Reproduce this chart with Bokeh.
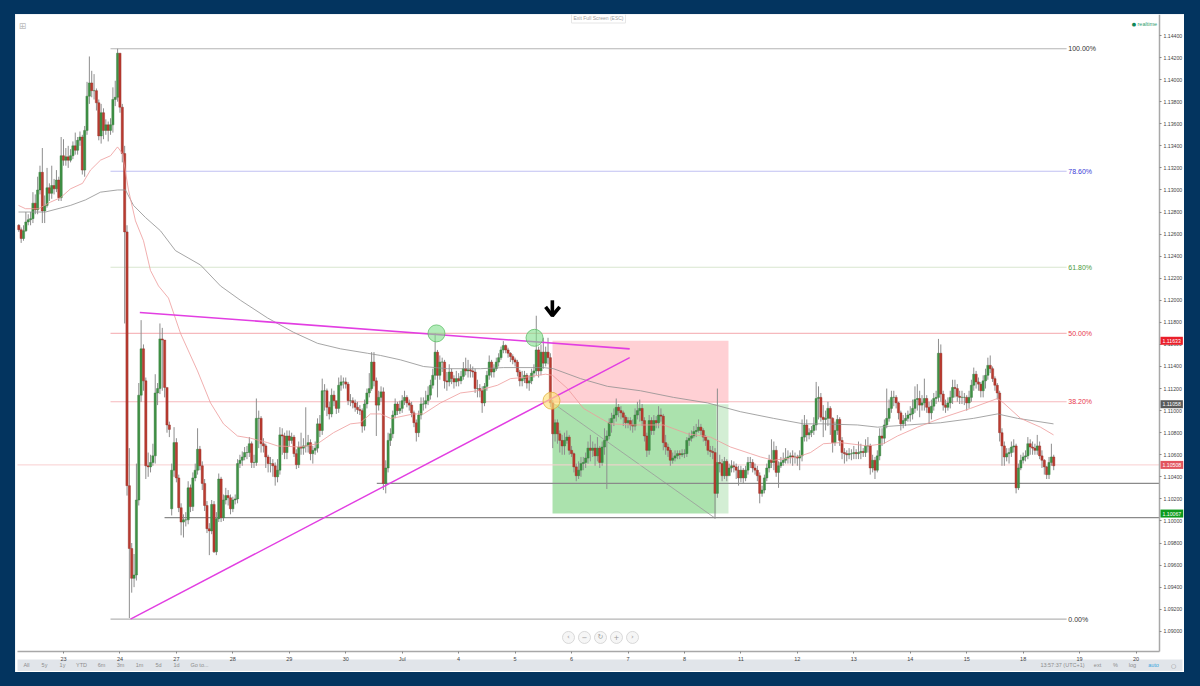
from bokeh.plotting import figure
from bokeh.core.properties import value
from bokeh.models import (Range1d, FixedTicker, NumeralTickFormatter, Label, BoxAnnotation,
                          GlobalInlineStyleSheet)
from bokeh.embed import file_html
from bokeh.resources import INLINE

# Hourly candles, one line per trading day; the first line ends just before the "23" tick
opens = [
1.1268,1.1264,1.1256,1.1263,1.1271,1.1273,1.1274,1.1288,1.1282,1.1300,1.1316,1.1281,1.1286,1.1302,1.1297,1.1304,1.1301,1.1309,1.1293,
1.1331,1.1327,1.1330,1.1327,1.1331,1.1340,1.1336,1.1345,1.1348,1.1318,1.1354,1.1385,1.1397,1.1390,1.1390,1.1379,1.1349,1.1370,1.1354,1.1359,1.1354,1.1359,1.1382,1.1384,
1.1424,1.1375,1.1333,1.1262,1.1032,1.0975,1.0948,1.0951,1.1019,1.1114,1.1156,1.1127,1.1050,1.1049,1.1053,1.1059,1.1116,1.1120,1.1165,1.1164,1.1121,1.1087,1.1011,1.1046,
1.1071,1.1039,1.1012,1.0999,1.1001,1.1001,1.1030,1.1013,1.1039,1.1046,1.1065,1.1050,1.1034,1.1014,1.0993,1.0991,1.1015,1.0972,1.1002,1.1038,1.1003,1.1019,1.1023,1.1021,
1.1011,1.1019,1.1020,1.1052,1.1055,1.1058,1.1062,1.1062,1.1070,1.1053,1.1053,1.1093,1.1093,1.1070,1.1068,1.1058,1.1052,1.1052,1.1050,1.1040,1.1046,1.1078,1.1077,1.1062,
1.1077,1.1073,1.1076,1.1061,1.1051,1.1067,1.1066,1.1068,1.1068,1.1071,1.1061,1.1064,1.1066,1.1088,1.1082,1.1118,1.1118,1.1103,1.1097,1.1114,1.1109,1.1102,1.1123,1.1126,
1.1126,1.1124,1.1109,1.1109,1.1107,1.1103,1.1101,1.1100,1.1086,1.1106,1.1116,1.1120,1.1144,1.1127,1.1105,1.1112,1.1117,1.1034,1.1048,1.1073,1.1079,1.1096,1.1106,1.1100,
1.1102,1.1109,1.1112,1.1107,1.1105,1.1098,1.1089,1.1080,1.1096,1.1106,1.1106,1.1109,1.1114,1.1123,1.1132,1.1153,1.1132,1.1144,1.1144,1.1127,1.1126,1.1135,1.1129,1.1126,
1.1129,1.1127,1.1131,1.1138,1.1136,1.1137,1.1136,1.1135,1.1120,1.1120,1.1118,1.1107,1.1122,1.1132,1.1144,1.1135,1.1138,1.1144,1.1148,1.1155,1.1159,1.1155,1.1152,1.1149,
1.1146,1.1144,1.1135,1.1127,1.1129,1.1132,1.1125,1.1127,1.1134,1.1136,1.1155,1.1136,1.1153,1.1143,1.1153,1.1148,1.1107,1.1079,1.1089,1.1079,1.1073,1.1068,1.1073,1.1076,
1.1064,1.1061,1.1049,1.1041,1.1046,1.1052,1.1053,1.1057,1.1066,1.1064,1.1066,1.1059,1.1066,1.1053,1.1067,1.1073,1.1077,1.1089,1.1093,1.1096,1.1103,1.1100,1.1098,1.1094,
1.1089,1.1091,1.1087,1.1086,1.1096,1.1100,1.1102,1.1091,1.1077,1.1064,1.1091,1.1082,1.1091,1.1089,1.1096,1.1095,1.1071,1.1067,1.1064,1.1055,1.1057,1.1059,1.1061,1.1060,
1.1061,1.1061,1.1073,1.1075,1.1077,1.1081,1.1082,1.1085,1.1082,1.1076,1.1073,1.1064,1.1063,1.1062,1.1025,1.1053,1.1052,1.1041,1.1054,1.1041,1.1048,1.1050,1.1049,1.1046,
1.1039,1.1046,1.1039,1.1046,1.1053,1.1053,1.1048,1.1046,1.1041,1.1025,1.1028,1.1039,1.1048,1.1055,1.1053,1.1064,1.1044,1.1050,1.1053,1.1055,1.1057,1.1058,1.1059,1.1058,
1.1058,1.1057,1.1059,1.1076,1.1087,1.1078,1.1080,1.1082,1.1087,1.1111,1.1112,1.1094,1.1092,1.1093,1.1102,1.1093,1.1071,1.1082,1.1092,1.1073,1.1062,1.1061,1.1060,1.1061,
1.1061,1.1062,1.1061,1.1062,1.1063,1.1062,1.1068,1.1068,1.1048,1.1055,1.1046,1.1059,1.1077,1.1075,1.1087,1.1093,1.1102,1.1112,1.1112,1.1107,1.1098,1.1088,1.1091,1.1093,
1.1096,1.1097,1.1102,1.1110,1.1111,1.1105,1.1107,1.1111,1.1103,1.1098,1.1104,1.1111,1.1112,1.1152,1.1115,1.1105,1.1103,1.1107,1.1112,1.1121,1.1120,1.1113,1.1112,1.1112,
1.1112,1.1107,1.1112,1.1123,1.1133,1.1126,1.1124,1.1118,1.1127,1.1132,1.1141,1.1138,1.1129,1.1123,1.1116,1.1080,1.1068,1.1058,1.1061,1.1062,1.1067,1.1068,1.1030,1.1048,
1.1055,1.1058,1.1059,1.1070,1.1067,1.1066,1.1064,1.1068,1.1059,1.1055,1.1049,1.1042,1.1053,1.1058,
]
highs = [
1.1269,1.1266,1.1268,1.1280,1.1278,1.1280,1.1298,1.1296,1.1312,1.1322,1.1338,1.1295,1.1320,1.1306,1.1322,1.1310,1.1318,1.1312,1.1348,
1.1346,1.1338,1.1340,1.1337,1.1344,1.1352,1.1348,1.1353,1.1350,1.1358,1.1398,1.1421,1.1408,1.1405,1.1392,1.1382,1.1378,1.1374,1.1364,1.1362,1.1365,1.1393,1.1399,1.1428,
1.1424,1.1378,1.1340,1.1268,1.1066,1.0980,1.0970,1.1052,1.1125,1.1182,1.1160,1.1130,1.1062,1.1060,1.1070,1.1133,1.1125,1.1179,1.1175,1.1125,1.1114,1.1090,1.1052,1.1085,
1.1075,1.1042,1.1016,1.1006,1.1008,1.1036,1.1033,1.1044,1.1052,1.1084,1.1068,1.1054,1.1038,1.1018,1.0998,1.1019,1.1018,1.1008,1.1043,1.1040,1.1024,1.1030,1.1028,1.1024,
1.1022,1.1024,1.1056,1.1060,1.1063,1.1067,1.1068,1.1076,1.1072,1.1060,1.1111,1.1100,1.1095,1.1075,1.1070,1.1060,1.1058,1.1056,1.1053,1.1056,1.1085,1.1084,1.1080,1.1082,
1.1082,1.1080,1.1078,1.1065,1.1072,1.1080,1.1075,1.1103,1.1078,1.1074,1.1068,1.1072,1.1093,1.1096,1.1129,1.1124,1.1120,1.1108,1.1120,1.1118,1.1108,1.1130,1.1132,1.1130,
1.1130,1.1126,1.1115,1.1112,1.1110,1.1108,1.1105,1.1102,1.1110,1.1120,1.1134,1.1153,1.1153,1.1130,1.1118,1.1122,1.1121,1.1055,1.1080,1.1084,1.1100,1.1111,1.1108,1.1109,
1.1114,1.1118,1.1114,1.1110,1.1108,1.1100,1.1092,1.1100,1.1112,1.1112,1.1118,1.1122,1.1128,1.1138,1.1170,1.1155,1.1150,1.1148,1.1146,1.1135,1.1142,1.1138,1.1132,1.1136,
1.1134,1.1136,1.1144,1.1148,1.1146,1.1142,1.1140,1.1138,1.1128,1.1124,1.1122,1.1125,1.1136,1.1150,1.1146,1.1142,1.1148,1.1152,1.1158,1.1163,1.1160,1.1157,1.1153,1.1151,
1.1148,1.1146,1.1137,1.1136,1.1136,1.1134,1.1132,1.1138,1.1142,1.1186,1.1158,1.1160,1.1166,1.1158,1.1166,1.1152,1.1110,1.1092,1.1092,1.1082,1.1078,1.1080,1.1082,1.1078,
1.1068,1.1062,1.1052,1.1054,1.1058,1.1058,1.1062,1.1072,1.1078,1.1072,1.1070,1.1076,1.1068,1.1072,1.1084,1.1082,1.1093,1.1098,1.1102,1.1111,1.1106,1.1104,1.1100,1.1096,
1.1094,1.1094,1.1092,1.1102,1.1108,1.1110,1.1106,1.1094,1.1080,1.1096,1.1094,1.1096,1.1095,1.1104,1.1102,1.1097,1.1078,1.1070,1.1066,1.1062,1.1064,1.1064,1.1064,1.1065,
1.1065,1.1076,1.1080,1.1082,1.1086,1.1088,1.1092,1.1088,1.1084,1.1078,1.1074,1.1068,1.1068,1.1066,1.1120,1.1060,1.1056,1.1058,1.1056,1.1052,1.1055,1.1054,1.1052,1.1050,
1.1050,1.1048,1.1050,1.1058,1.1058,1.1056,1.1052,1.1050,1.1044,1.1032,1.1042,1.1052,1.1060,1.1074,1.1072,1.1068,1.1054,1.1058,1.1062,1.1066,1.1064,1.1062,1.1064,1.1062,
1.1060,1.1064,1.1092,1.1096,1.1092,1.1084,1.1086,1.1094,1.1126,1.1122,1.1116,1.1105,1.1100,1.1108,1.1104,1.1094,1.1090,1.1096,1.1094,1.1076,1.1066,1.1064,1.1066,1.1065,
1.1068,1.1065,1.1072,1.1070,1.1066,1.1074,1.1076,1.1070,1.1060,1.1058,1.1064,1.1084,1.1084,1.1092,1.1120,1.1110,1.1118,1.1118,1.1114,1.1108,1.1100,1.1096,1.1098,1.1100,
1.1104,1.1110,1.1122,1.1124,1.1118,1.1114,1.1129,1.1114,1.1108,1.1110,1.1116,1.1118,1.1165,1.1160,1.1118,1.1110,1.1112,1.1118,1.1128,1.1128,1.1124,1.1118,1.1118,1.1116,
1.1114,1.1118,1.1128,1.1139,1.1136,1.1130,1.1126,1.1132,1.1138,1.1148,1.1150,1.1140,1.1131,1.1125,1.1118,1.1084,1.1072,1.1066,1.1066,1.1072,1.1074,1.1070,1.1052,1.1060,
1.1062,1.1064,1.1076,1.1074,1.1072,1.1070,1.1078,1.1072,1.1064,1.1056,1.1050,1.1058,1.1070,1.1060,
]
lows = [
1.1262,1.1252,1.1254,1.1262,1.1268,1.1268,1.1270,1.1278,1.1278,1.1296,1.1270,1.1270,1.1284,1.1290,1.1292,1.1296,1.1298,1.1290,1.1290,
1.1322,1.1322,1.1320,1.1325,1.1328,1.1332,1.1332,1.1340,1.1314,1.1312,1.1350,1.1378,1.1384,1.1382,1.1372,1.1345,1.1342,1.1346,1.1350,1.1344,1.1350,1.1352,1.1376,1.1380,
1.1370,1.1325,1.1179,1.1023,1.0912,1.0935,1.0940,1.0946,1.1014,1.1108,1.1118,1.1038,1.1040,1.1044,1.1050,1.1052,1.1105,1.1115,1.1118,1.1112,1.1080,1.1076,1.1005,1.1040,
1.1035,1.1008,1.0987,1.0985,1.0995,1.0997,1.1008,1.1009,1.1036,1.1042,1.1046,1.1028,1.1009,1.0989,1.0969,1.0988,1.0971,1.0969,1.0999,1.0999,1.1000,1.1015,1.1014,1.1006,
1.1008,1.1015,1.1016,1.1048,1.1050,1.1055,1.1056,1.1058,1.1048,1.1048,1.1050,1.1066,1.1062,1.1062,1.1048,1.1044,1.1044,1.1040,1.1032,1.1035,1.1042,1.1060,1.1056,1.1056,
1.1068,1.1070,1.1058,1.1047,1.1048,1.1060,1.1060,1.1062,1.1062,1.1055,1.1052,1.1060,1.1062,1.1076,1.1078,1.1100,1.1095,1.1092,1.1094,1.1104,1.1097,1.1098,1.1118,1.1120,
1.1120,1.1105,1.1104,1.1102,1.1099,1.1097,1.1096,1.1080,1.1082,1.1102,1.1112,1.1118,1.1122,1.1077,1.1100,1.1108,1.1028,1.1025,1.1044,1.1068,1.1075,1.1093,1.1096,1.1097,
1.1098,1.1105,1.1103,1.1100,1.1094,1.1085,1.1072,1.1076,1.1092,1.1100,1.1102,1.1105,1.1110,1.1120,1.1128,1.1112,1.1128,1.1135,1.1120,1.1118,1.1122,1.1124,1.1120,1.1122,
1.1122,1.1124,1.1128,1.1132,1.1130,1.1130,1.1130,1.1116,1.1112,1.1112,1.1098,1.1104,1.1118,1.1128,1.1130,1.1130,1.1136,1.1140,1.1146,1.1152,1.1152,1.1148,1.1144,1.1142,
1.1140,1.1131,1.1122,1.1122,1.1125,1.1120,1.1118,1.1124,1.1130,1.1132,1.1130,1.1132,1.1138,1.1140,1.1142,1.1103,1.1066,1.1072,1.1070,1.1062,1.1060,1.1060,1.1070,1.1060,
1.1058,1.1044,1.1036,1.1038,1.1040,1.1046,1.1048,1.1052,1.1054,1.1058,1.1050,1.1054,1.1048,1.1050,1.1060,1.1029,1.1074,1.1080,1.1086,1.1090,1.1094,1.1092,1.1086,1.1084,
1.1084,1.1082,1.1080,1.1082,1.1092,1.1090,1.1086,1.1072,1.1058,1.1060,1.1078,1.1078,1.1084,1.1084,1.1090,1.1064,1.1060,1.1058,1.1050,1.1052,1.1054,1.1056,1.1056,1.1058,
1.1057,1.1058,1.1068,1.1072,1.1075,1.1076,1.1080,1.1078,1.1072,1.1068,1.1060,1.1058,1.1056,1.1002,1.1021,1.1044,1.1036,1.1038,1.1036,1.1044,1.1044,1.1044,1.1038,1.1032,
1.1035,1.1034,1.1036,1.1042,1.1048,1.1044,1.1042,1.1036,1.1016,1.1022,1.1025,1.1036,1.1044,1.1048,1.1046,1.1040,1.1030,1.1048,1.1050,1.1052,1.1052,1.1052,1.1050,1.1052,
1.1050,1.1046,1.1054,1.1072,1.1072,1.1074,1.1076,1.1078,1.1082,1.1092,1.1090,1.1076,1.1082,1.1086,1.1078,1.1062,1.1068,1.1078,1.1068,1.1056,1.1052,1.1054,1.1056,1.1055,
1.1056,1.1056,1.1056,1.1056,1.1058,1.1058,1.1062,1.1042,1.1044,1.1038,1.1044,1.1055,1.1068,1.1070,1.1084,1.1090,1.1098,1.1104,1.1102,1.1092,1.1082,1.1084,1.1086,1.1090,
1.1090,1.1092,1.1098,1.1100,1.1094,1.1100,1.1100,1.1098,1.1088,1.1092,1.1100,1.1106,1.1108,1.1108,1.1100,1.1098,1.1100,1.1102,1.1106,1.1112,1.1108,1.1106,1.1106,1.1105,
1.1100,1.1102,1.1108,1.1118,1.1120,1.1118,1.1112,1.1112,1.1120,1.1128,1.1134,1.1126,1.1118,1.1110,1.1072,1.1050,1.1050,1.1054,1.1052,1.1058,1.1062,1.1025,1.1028,1.1046,
1.1052,1.1054,1.1056,1.1060,1.1060,1.1060,1.1060,1.1056,1.1048,1.1042,1.1038,1.1038,1.1050,1.1046,
]
closes = [
1.1264,1.1256,1.1263,1.1271,1.1273,1.1274,1.1288,1.1282,1.1300,1.1316,1.1281,1.1286,1.1302,1.1297,1.1304,1.1301,1.1309,1.1293,1.1331,
1.1327,1.1330,1.1327,1.1331,1.1340,1.1336,1.1345,1.1348,1.1318,1.1354,1.1385,1.1397,1.1390,1.1390,1.1379,1.1349,1.1370,1.1354,1.1359,1.1354,1.1359,1.1382,1.1384,1.1424,
1.1375,1.1333,1.1262,1.1032,1.0975,1.0948,1.0951,1.1019,1.1114,1.1156,1.1127,1.1050,1.1049,1.1053,1.1059,1.1116,1.1120,1.1165,1.1164,1.1121,1.1087,1.1083,1.1046,1.1071,
1.1039,1.1012,1.0999,1.1001,1.1001,1.1030,1.1013,1.1039,1.1046,1.1065,1.1050,1.1034,1.1014,1.0993,1.0991,1.1015,1.0972,1.1002,1.1038,1.1003,1.1019,1.1023,1.1021,1.1011,
1.1019,1.1020,1.1052,1.1055,1.1058,1.1062,1.1062,1.1070,1.1053,1.1053,1.1093,1.1093,1.1070,1.1068,1.1058,1.1052,1.1052,1.1050,1.1040,1.1046,1.1078,1.1077,1.1062,1.1077,
1.1073,1.1076,1.1061,1.1051,1.1067,1.1066,1.1068,1.1068,1.1071,1.1061,1.1064,1.1066,1.1088,1.1082,1.1118,1.1118,1.1103,1.1097,1.1114,1.1109,1.1102,1.1123,1.1126,1.1126,
1.1124,1.1109,1.1109,1.1107,1.1103,1.1101,1.1100,1.1086,1.1106,1.1116,1.1120,1.1144,1.1127,1.1105,1.1112,1.1117,1.1034,1.1048,1.1073,1.1079,1.1096,1.1106,1.1100,1.1102,
1.1109,1.1112,1.1107,1.1105,1.1098,1.1089,1.1080,1.1096,1.1106,1.1106,1.1109,1.1114,1.1123,1.1132,1.1153,1.1132,1.1144,1.1144,1.1127,1.1126,1.1135,1.1129,1.1126,1.1129,
1.1127,1.1131,1.1138,1.1136,1.1137,1.1136,1.1135,1.1120,1.1120,1.1118,1.1107,1.1122,1.1132,1.1144,1.1135,1.1138,1.1144,1.1148,1.1155,1.1159,1.1155,1.1152,1.1149,1.1146,
1.1144,1.1135,1.1127,1.1129,1.1132,1.1125,1.1127,1.1134,1.1136,1.1155,1.1136,1.1153,1.1143,1.1153,1.1148,1.1107,1.1079,1.1089,1.1079,1.1073,1.1068,1.1073,1.1076,1.1064,
1.1061,1.1049,1.1041,1.1046,1.1052,1.1053,1.1057,1.1066,1.1064,1.1066,1.1059,1.1066,1.1053,1.1067,1.1073,1.1077,1.1089,1.1093,1.1096,1.1103,1.1100,1.1098,1.1094,1.1089,
1.1091,1.1087,1.1086,1.1096,1.1100,1.1102,1.1091,1.1077,1.1064,1.1091,1.1082,1.1091,1.1089,1.1096,1.1095,1.1071,1.1067,1.1064,1.1055,1.1057,1.1059,1.1061,1.1060,1.1061,
1.1061,1.1073,1.1075,1.1077,1.1081,1.1082,1.1085,1.1082,1.1076,1.1073,1.1064,1.1063,1.1062,1.1025,1.1053,1.1052,1.1041,1.1054,1.1041,1.1048,1.1050,1.1049,1.1046,1.1039,
1.1046,1.1039,1.1046,1.1053,1.1053,1.1048,1.1046,1.1041,1.1025,1.1028,1.1039,1.1048,1.1055,1.1053,1.1064,1.1044,1.1050,1.1053,1.1055,1.1057,1.1058,1.1059,1.1058,1.1058,
1.1057,1.1059,1.1076,1.1087,1.1078,1.1080,1.1082,1.1087,1.1111,1.1112,1.1094,1.1092,1.1093,1.1102,1.1093,1.1071,1.1082,1.1092,1.1073,1.1062,1.1061,1.1060,1.1061,1.1061,
1.1062,1.1061,1.1062,1.1063,1.1062,1.1068,1.1068,1.1048,1.1055,1.1046,1.1059,1.1077,1.1075,1.1087,1.1093,1.1102,1.1112,1.1112,1.1107,1.1098,1.1088,1.1091,1.1093,1.1096,
1.1097,1.1102,1.1110,1.1111,1.1105,1.1107,1.1111,1.1103,1.1098,1.1104,1.1111,1.1112,1.1152,1.1115,1.1105,1.1103,1.1107,1.1112,1.1121,1.1120,1.1113,1.1112,1.1112,1.1112,
1.1107,1.1112,1.1123,1.1133,1.1126,1.1124,1.1118,1.1127,1.1132,1.1141,1.1138,1.1129,1.1123,1.1116,1.1080,1.1068,1.1058,1.1061,1.1062,1.1067,1.1068,1.1030,1.1048,1.1055,
1.1058,1.1059,1.1070,1.1067,1.1066,1.1064,1.1068,1.1059,1.1055,1.1049,1.1042,1.1053,1.1058,1.1050,
]

ema_fast_days = [-0.797,-0.673,-0.585,-0.443,-0.230,-0.053,0.124,0.337,0.478,0.655,0.833,0.957,1.045,1.151,1.275,1.417,1.541,1.683,1.860,2.073,2.374,2.604,2.834,3.082,3.313,3.614,3.791,4.198,4.500,4.783,5.084,5.261,5.438,5.616,5.793,5.917,6.200,6.377,6.678,7.033,7.334,7.688,7.918,8.149,8.539,8.663,8.928,9.212,9.513,9.690,10.097,10.629,11.054,11.461,11.816,12.170,12.347,12.577,13.002,13.233,13.463,13.764,14.243,14.526,14.774,15.128,15.536,16.067,16.545,16.652,16.953,17.307,17.538]
ema_fast = [1.1286,1.1283,1.1283,1.1283,1.1289,1.1293,1.1301,1.1306,1.1318,1.1327,1.1331,1.1339,1.1333,1.1300,1.1272,1.1254,1.1227,1.1213,1.1202,1.1170,1.1136,1.1107,1.1088,1.1077,1.1075,1.1071,1.1068,1.1067,1.1070,1.1080,1.1088,1.1089,1.1097,1.1097,1.1093,1.1094,1.1097,1.1097,1.1107,1.1116,1.1118,1.1123,1.1129,1.1130,1.1133,1.1132,1.1120,1.1102,1.1093,1.1088,1.1087,1.1087,1.1079,1.1076,1.1067,1.1061,1.1058,1.1055,1.1058,1.1062,1.1070,1.1071,1.1068,1.1070,1.1077,1.1085,1.1093,1.1102,1.1111,1.1107,1.1093,1.1085,1.1078]
ema_slow_days = [-0.797,-0.319,0.124,0.390,0.655,0.957,1.098,1.240,1.453,1.718,1.984,2.427,2.781,3.135,3.614,4.074,4.500,4.907,5.385,5.616,5.970,6.377,6.802,7.387,7.794,8.503,8.680,9.159,9.637,10.221,10.806,11.408,11.993,12.577,13.109,13.463,14.065,14.420,14.951,15.536,16.121,16.545,16.900,17.538]
ema_slow = [1.1280,1.1280,1.1286,1.1291,1.1298,1.1300,1.1300,1.1286,1.1275,1.1263,1.1245,1.1232,1.1213,1.1200,1.1184,1.1171,1.1161,1.1156,1.1152,1.1150,1.1146,1.1140,1.1138,1.1138,1.1139,1.1139,1.1138,1.1129,1.1122,1.1118,1.1112,1.1107,1.1099,1.1093,1.1088,1.1088,1.1087,1.1085,1.1087,1.1089,1.1093,1.1097,1.1093,1.1088]

tick_days = list(range(20))
tick_labels = ["23","24","27","28","29","30","Jul","4","5","6","7","8","11","12","13","14","15","18","19","20"]
price_ticks = [1.09,1.092,1.094,1.096,1.098,1.10,1.102,1.104,1.106,1.108,1.11,1.112,1.114,1.116,1.118,1.12,1.122,1.124,1.126,1.128,1.13,1.132,1.134,1.136,1.138,1.14,1.142,1.144]

fib_levels = [1.1428,1.1317,1.1230,1.1170,1.1108,1.0911]
fib_names = ["100.00%","78.60%","61.80%","50.00%","38.20%","0.00%"]
fib_line_colors = ["#b5b5b5","#c0c0f2","#d8e6cf","#f6b9bd","#f6b9bd","#b5b5b5"]
fib_text_colors = ["#333333","#3a3ad6","#4c9a3c","#e8364a","#e8364a","#333333"]

tags = [("1.11633",1.11633,"#ea1f2a"),("1.11058",1.11058,"#5a5a5a"),("1.10508",1.10508,"#e2545e"),("1.10067",1.10067,"#0d9b1c")]
last_price = 1.10508
support_a, support_a_from = 1.1034, 5.55
support_b, support_b_from = 1.1003, 1.79

day_per_hour = 1/24
first_candle_day = -19/24

x_left, x_right = (15-63)/56.45, (1184-63)/56.45
y_top, y_bottom = 1.144+(35-14)/11033, 1.144-(672-35)/11033
axis_day, axis_price = (1159-63)/56.45, 1.144-(651-35)/11033

p = figure(width=1169, height=658, output_backend="svg", toolbar_location=None,
           x_range=Range1d(x_left, x_right), y_range=Range1d(y_bottom, y_top),
           y_axis_location="right", min_border=0,
           margin=(14,0,0,15), background_fill_color="white",
           border_fill_color="white", outline_line_color=None,
           stylesheets=[GlobalInlineStyleSheet(css="html,body{background:#03345f;}")])
p.styles = {"outline":"2px solid #e3e8ee","outline-offset":"-2px"}
p.grid.visible = False

xa, ya = p.xaxis[0], p.yaxis[0]
xa.fixed_location = axis_price
xa.bounds = ((17-63)/56.45, axis_day)
xa.ticker = FixedTicker(ticks=tick_days)
xa.major_label_overrides = dict(zip(tick_days, tick_labels))
ya.fixed_location = axis_day
ya.bounds = (axis_price, y_top)
ya.ticker = FixedTicker(ticks=price_ticks)
ya.formatter = NumeralTickFormatter(format="0.00000")
for a, fs in ((xa,"5.5px"),(ya,"5.2px")):
    a.axis_line_color = "#a8a8a8"; a.axis_line_width = 1.5
    a.major_tick_line_color = "#888888"; a.major_tick_in = 0; a.major_tick_out = 2
    a.minor_tick_line_color = None
    a.major_label_text_font = "Liberation Sans"; a.major_label_text_font_size = fs
    a.major_label_text_color = "#444444"; a.major_label_standoff = 2

# position boxes
p.quad(left=8.663, right=11.78, top=1.11633, bottom=1.1107, fill_color="#ffd0d4", line_color=None)
p.quad(left=8.663, right=11.57, top=1.11058, bottom=1.10067, fill_color="#abe2ad", line_color=None)
p.quad(left=11.57, right=11.78, top=1.11058, bottom=1.10067, fill_color="#d3eed4", line_color=None)
p.segment(x0=8.663, y0=1.1107, x1=11.53, y1=1.1003, line_color="#9a9a9a", line_width=0.8)

# fib and price levels
p.segment(x0=[0.833]*6, x1=[17.77]*6, y0=fib_levels, y1=fib_levels, line_color=fib_line_colors, line_width=1.1)
p.text(x=[17.80]*6, y=fib_levels, text=fib_names, text_color=fib_text_colors, text_font=value("Liberation Sans"),
       text_font_size="7px", text_baseline="middle")
p.segment(x0=(17-63)/56.45, x1=axis_day, y0=last_price, y1=last_price, line_color="#f9cfd0", line_width=1)
p.segment(x0=[support_a_from, support_b_from], x1=[axis_day, axis_day], y0=[support_a, support_b],
          y1=[support_a, support_b], line_color="#8a8a8a", line_width=1.3)

# candles
days = [first_candle_day + i*day_per_hour for i in range(len(closes))]
up = [c >= o for o, c in zip(opens, closes)]
p.segment(x0=days, x1=days, y0=lows, y1=highs, line_color="#8e8e8e", line_width=1)
colors = ["#3f9145" if u else "#bb3b30" for u in up]
p.vbar(x=days, width=0.95*day_per_hour, top=closes, bottom=opens, fill_color=colors,
       line_color=["#357a3b" if u else "#8f2c24" for u in up], line_width=0.4)

p.line(ema_slow_days, ema_slow, line_color="#8f8f8f", line_width=0.8)
p.line(ema_fast_days, ema_fast, line_color="#ee9a9a", line_width=0.8)

# trend lines
p.line([1.352,10.03],[1.1189,1.1156], line_color="#e23ee2", line_width=1.6)
p.line([1.187,10.03],[1.0911,1.1148], line_color="#e23ee2", line_width=1.4)

# markers
p.scatter([6.607,8.344],[1.1170,1.1166], size=17, fill_color="#7fe08a", fill_alpha=0.6, line_color="#5fbf6a", line_width=0.8)
p.scatter([8.645],[1.1109], size=17, fill_color="#ffe27a", fill_alpha=0.65, line_color="#e0b040", line_width=0.8)
p.multi_line(xs=[[8.66,8.66],[8.54,8.66,8.79]], ys=[[1.1200,1.1187],[1.1194,1.1186,1.1194]],
             line_color="black", line_width=3.6)

# range navigation buttons
nav_days = [8.946,9.229,9.513,9.796,10.08]
nav_price = 1.08944
p.scatter(nav_days, [nav_price]*5, size=12, fill_color="#f6f6f6", line_color="#cfcfcf", line_width=0.8)
p.text(x=nav_days, y=[nav_price]*5, text=["‹","−","↻","+","›"], text_color="#9a9a9a", text_font=value("DejaVu Sans"),
       text_font_size="7px", text_align="center", text_baseline="middle")

# page chrome, placed from page px relative to the frame origin
def sx(px): return px-15
def sy(py): return 672-py
p.add_layout(BoxAnnotation(left=sx(17), right=sx(1182), top=sy(659), bottom=sy(670.5), left_units="screen",
                           right_units="screen", top_units="screen", bottom_units="screen",
                           fill_color="#e1e5ea", fill_alpha=1, line_color=None, level="underlay"))
def add_text(px, py, text, color="#8d8d8d", size="5.5px", align="left", font="Liberation Sans", **kw):
    p.add_layout(Label(x=sx(px), y=sy(py), x_units="screen", y_units="screen", text=text, text_color=color,
                       text_font_size=size, text_font=font, text_align=align, text_baseline="middle", **kw))
for px, t in zip([26,44,62,81,101,120,139,158,176],["All","5y","1y","YTD","6m","3m","1m","5d","1d"]):
    add_text(px, 664.5, t, align="center")
add_text(190, 664.5, "Go to...")
add_text(1062, 664.5, "13:57:37 (UTC+1)", align="center")
add_text(1097, 664.5, "ext", align="center")
add_text(1115, 664.5, "%", align="center")
add_text(1132, 664.5, "log", align="center")
add_text(1153, 664.5, "auto", color="#3aa7e0", align="center")
add_text(1173, 664.5, "○", align="center", font="DejaVu Sans", size="6px")
add_text(598, 17.5, "Exit Full Screen (ESC)", color="#a0a0a0", size="5px", align="center",
         border_line_color="#e6e6e6", padding=2)
add_text(1137, 23.5, "realtime", color="#2f9e6e", size="5.5px")
add_text(1133.5, 23.5, "●", color="#11875a", size="5px", align="center", font="DejaVu Sans")
add_text(22, 25, "⊞", color="#bdbdbd", size="9px", align="center", font="DejaVu Sans")

for text, price, col in tags:
    p.add_layout(Label(x=sx(1160), y=price, x_units="screen", y_units="data", text=text, text_color="white",
                       text_font="Liberation Sans", text_font_size="5.2px", text_baseline="middle",
                       background_fill_color=col, background_fill_alpha=1, padding=2))

print(len(opens), len(highs), len(lows), len(closes))
open("out.html", "w").write(file_html(p, INLINE))
